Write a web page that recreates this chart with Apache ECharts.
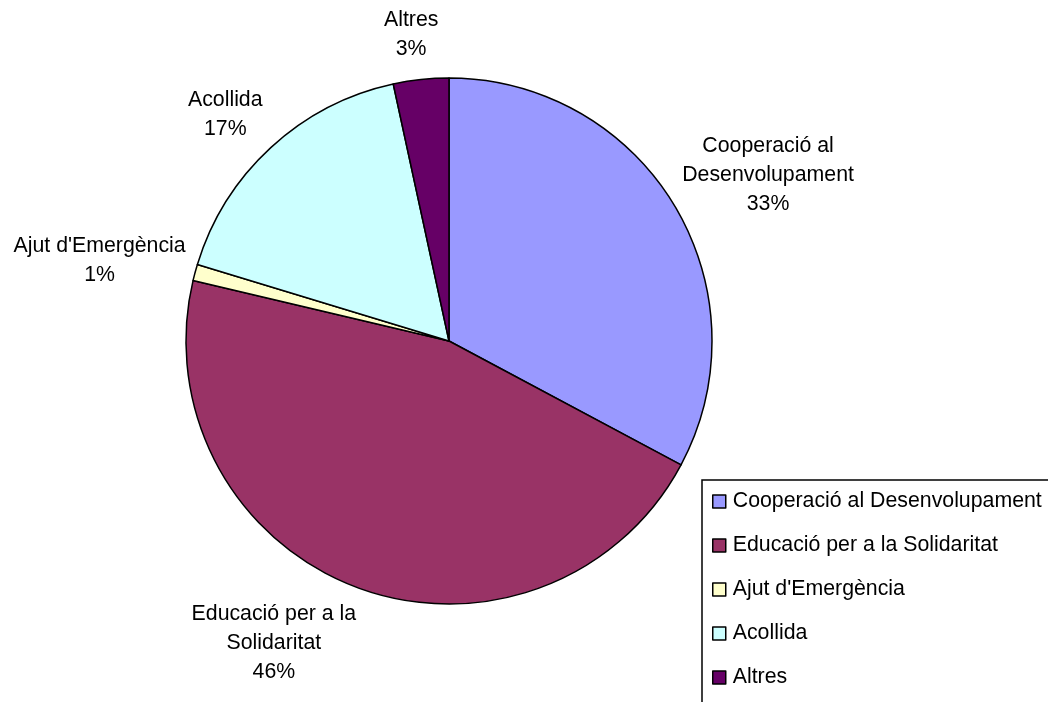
<!DOCTYPE html>
<html>
<head>
<meta charset="utf-8">
<script src="https://cdn.jsdelivr.net/npm/echarts@6/dist/echarts.min.js"></script>
<style>
html,body{margin:0;padding:0;background:#fff;}
#chart{width:1048px;height:702px;}
</style>
</head>
<body>
<div id="chart"></div>
<script>
// Data
var categories = ["Cooperació al Desenvolupament", "Educació per a la Solidaritat", "Ajut d'Emergència", "Acollida", "Altres"];
var labelNames = ["Cooperació al\nDesenvolupament", "Educació per a la\nSolidaritat", "Ajut d'Emergència", "Acollida", "Altres"];
var values = [32.8, 45.9, 1.0, 16.9, 3.4];
var colors = ["#9999FF", "#993366", "#FFFFCC", "#CCFFFF", "#660066"];

var CX = 449, CY = 341, R = 263, GAP = 16;
var total = values.reduce(function (a, b) { return a + b; }, 0);
var midAngles = [];
(function () {
  var acc = 0;
  for (var i = 0; i < values.length; i++) {
    var a0 = acc / total * 2 * Math.PI;
    acc += values[i];
    var a1 = acc / total * 2 * Math.PI;
    midAngles.push((a0 + a1) / 2);
  }
})();

var chart = echarts.init(document.getElementById('chart'));
var font = "'Liberation Sans', Arial, sans-serif";
var FS = 21.3;
chart.setOption({
  backgroundColor: '#ffffff',
  animation: false,
  graphic: [{
    type: 'rect',
    shape: { x: 702, y: 480, width: 400, height: 300 },
    style: { fill: 'none', stroke: '#000', lineWidth: 1.5 },
    z: 1
  }],
  legend: {
    orient: 'vertical',
    left: 702,
    top: 481,
    padding: [10, 10, 10, 10],
    icon: 'rect',
    itemWidth: 13,
    itemHeight: 13,
    itemGap: 23,
    textStyle: { fontFamily: font, fontSize: FS, lineHeight: 21, color: '#000', padding: [0, 0, 0, 2] },
    itemStyle: { borderColor: '#000', borderWidth: 1.5 },
    data: categories
  },
  series: [{
    type: 'pie',
    center: [CX, CY],
    radius: R,
    startAngle: 90,
    clockwise: true,
    avoidLabelOverlap: false,
    itemStyle: { borderColor: '#000', borderWidth: 1.5 },
    emphasis: { disabled: true },
    labelLine: { show: false },
    label: {
      show: true,
      position: 'outside',
      fontFamily: font,
      fontSize: FS,
      lineHeight: 29,
      color: '#000',
      align: 'center',
      formatter: function (p) {
        return labelNames[p.dataIndex] + '\n' + Math.round(p.percent) + '%';
      }
    },
    labelLayout: function (p) {
      var a = midAngles[p.dataIndex];
      var dx = Math.sin(a), dy = -Math.cos(a);
      var w = p.labelRect.width, h = p.labelRect.height;
      var fx = Math.max(-1, Math.min(1, dx * 3)) * 0.93;
      return {
        x: CX + dx * (R + GAP) + fx * w / 2,
        y: CY + dy * (R + GAP) + dy * h / 2,
        align: 'center',
        verticalAlign: 'middle'
      };
    },
    data: categories.map(function (c, i) {
      return { name: c, value: values[i], itemStyle: { color: colors[i] } };
    })
  }]
});
</script>
</body>
</html>
